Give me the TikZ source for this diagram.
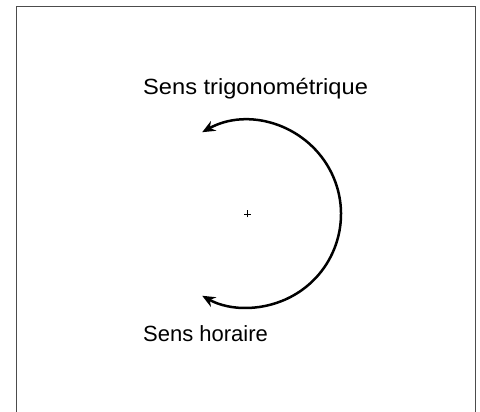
\documentclass[tikz,border=0pt]{standalone}
\usepackage{fontspec}
\setmainfont{Liberation Sans}
\usetikzlibrary{positioning, arrows.meta, calc}

\begin{document}
\begin{tikzpicture}[
  x=1pt, y=1pt,
  cadre/.style={draw=black!70, line width=1pt},
  sens/.style={line width=2.5pt, {Stealth[length=13pt, width=11pt]}-{Stealth[length=13pt, width=11pt]}},
  legende/.style={font=\fontsize{22}{26}\selectfont, inner sep=0pt, anchor=base west}
]
  \useasboundingbox (0,0) rectangle (480,412);
  % cadre ouvert en bas
  \draw[cadre] (16,0) -- (16,405) -- (475,405) -- (475,0);

  % centre du cercle
  \coordinate (centre) at (247.5,198);
  \draw[line width=0.6pt] ($(centre)+(-3.5,0)$) -- ($(centre)+(3.5,0)$)
                          ($(centre)+(0,-3.5)$) -- ($(centre)+(0,3.5)$);

  % arc avec deux fleches
  \draw[sens] ($(centre)+(119:93.5pt)$) arc[start angle=119, end angle=-119, radius=93.5pt];

  \node[legende] (trigo) at (143,317) {\scalebox{1.075}[1]{Sens trigonométrique}};
  \node[legende] (horaire) at (143,70) {Sens horaire};
\end{tikzpicture}
\end{document}
